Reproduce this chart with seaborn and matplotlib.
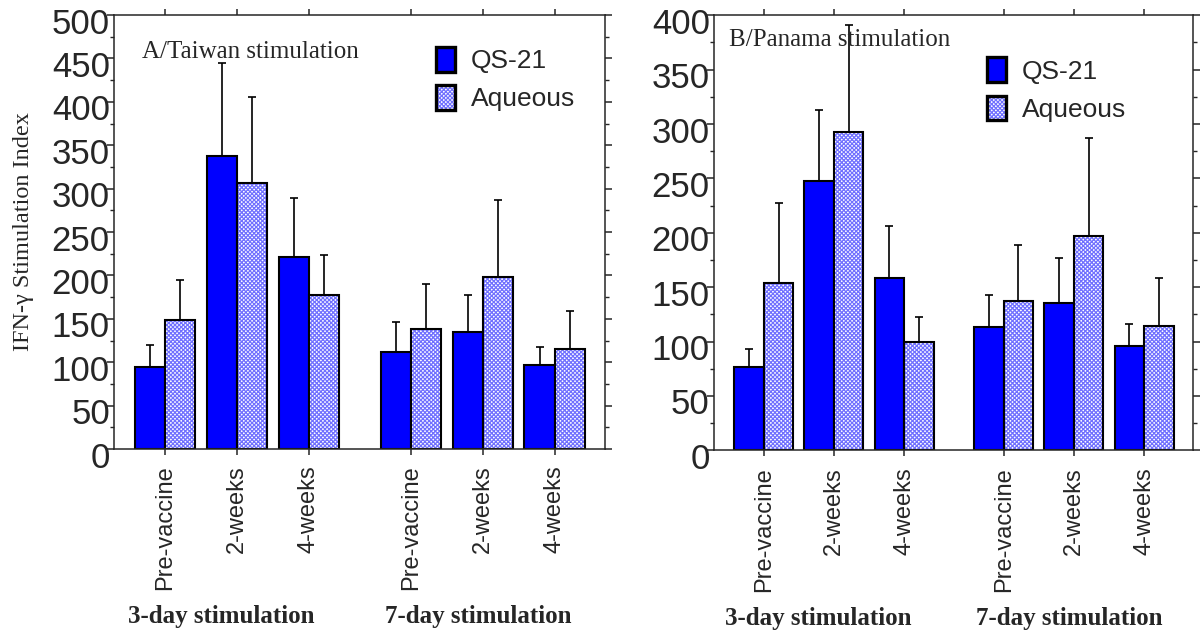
import numpy as np
import pandas as pd
import matplotlib
matplotlib.use("Agg")
import matplotlib.pyplot as plt
import matplotlib.colors as mcolors
import matplotlib.transforms as mtransforms
from matplotlib.patches import Patch
from matplotlib.ticker import MultipleLocator
import seaborn as sns

# ---- data ----
timepoints = ["Pre-vaccine", "2-weeks", "4-weeks"]
stim_groups = ["3-day stimulation", "7-day stimulation"]
adjuvants = ["QS-21", "Aqueous"]

# A/Taiwan (3-day pre, 2w, 4w, 7-day pre, 2w, 4w)
taiwan_qs21 = [94, 337, 221, 112, 135, 97]
taiwan_qs21_err = [26, 108, 68, 34, 42, 20]
taiwan_aq = [149, 307, 177, 138, 198, 115]
taiwan_aq_err = [46, 98, 47, 52, 89, 44]

# B/Panama
panama_qs21 = [77, 248, 158, 113, 135, 96]
panama_qs21_err = [16, 65, 48, 30, 42, 20]
panama_aq = [154, 293, 100, 137, 197, 114]
panama_aq_err = [73, 98, 23, 52, 90, 44]

SANS = "Liberation Sans"
SERIF = "Liberation Serif"
BLUE = "#0000ff"
HATCH_BLUE = "#7070ff"
HATCH = "xxxxxxxx"

sns.set_style("ticks")
plt.rcParams["font.family"] = [SANS, "DejaVu Sans"]
plt.rcParams["hatch.linewidth"] = 0.9

# group layout: three bars, a gap, three bars
pos = np.r_[np.arange(3), np.arange(3) + 3.42]


def make_df(qs, qs_err, aq, aq_err):
    n = len(qs)
    return pd.DataFrame({
        "pos": np.r_[pos, pos],
        "value": np.r_[qs, aq],
        "err": np.r_[qs_err, aq_err],
        "adjuvant": [adjuvants[0]] * n + [adjuvants[1]] * n,
    })


def set_hatch_color(patch):
    if hasattr(patch, "set_hatchcolor"):
        patch.set_hatchcolor(HATCH_BLUE)
    else:
        patch._hatch_color = mcolors.to_rgba(HATCH_BLUE)


def draw_panel(fig, ax, df, ymax, title, title_xy, legend_xy):
    sns.barplot(data=df, x="pos", y="value", hue="adjuvant", native_scale=True,
                hue_order=adjuvants, palette=[BLUE, "white"], errorbar=None,
                width=0.84, edgecolor="black", linewidth=1.5, legend=False,
                saturation=1, ax=ax)

    # crosshatch on the aqueous bars
    for bar in ax.containers[1]:
        bar.set_hatch(HATCH)
        set_hatch_color(bar)

    # upper-only error bars
    for cont, adj in zip(ax.containers, adjuvants):
        sub = df[df["adjuvant"] == adj]
        cx = [b.get_x() + b.get_width() / 2 for b in cont]
        h = [b.get_height() for b in cont]
        err = sub["err"].to_numpy()
        ax.errorbar(cx, h, yerr=[np.zeros_like(err), err], fmt="none",
                    ecolor="black", elinewidth=1.2, capsize=3, capthick=1.2,
                    zorder=0)

    ax.set_xlim(-0.71, 6.12)
    ax.set_ylim(0, ymax)
    ax.yaxis.set_major_locator(MultipleLocator(50))
    ax.yaxis.set_minor_locator(MultipleLocator(25))
    ax.set_xticks(pos, timepoints * 2, rotation=90, fontsize=17)
    ax.set_xlabel("")
    ax.set_ylabel("")

    for s in ax.spines.values():
        s.set_visible(True)
        s.set_linewidth(1.1)
    ax.tick_params(axis="y", which="major", length=5, width=1.1, labelsize=25,
                   pad=-2, right=True, direction="out")
    ax.tick_params(axis="y", which="minor", length=3, width=1.0, right=True)
    ax.tick_params(axis="x", length=4, width=1.1, top=True, pad=8)

    # y numbers sit a little below their ticks in the original
    shift = mtransforms.ScaledTranslation(0, -4 / 72, fig.dpi_scale_trans)
    for lab in ax.get_yticklabels():
        lab.set_transform(lab.get_transform() + shift)

    ax.text(title_xy[0], title_xy[1], title, transform=ax.transAxes,
            fontsize=18, family=SERIF, ha="left", va="center")

    handles = [Patch(facecolor=BLUE, edgecolor="black", linewidth=2.4),
               Patch(facecolor="white", edgecolor="black", linewidth=2.4,
                     hatch=HATCH)]
    leg = ax.legend(handles, adjuvants, loc="upper left", bbox_to_anchor=legend_xy,
                    frameon=False, fontsize=19, handlelength=0.72,
                    handleheight=1.05, handletextpad=0.6, labelspacing=0.45,
                    borderpad=0, borderaxespad=0)
    set_hatch_color(leg.legend_handles[1])

    centers = [pos[:3].mean() - 0.22, pos[3:].mean() - 0.07]
    for c, name in zip(centers, stim_groups):
        ax.text(c, -0.387, name, transform=ax.get_xaxis_transform(),
                ha="center", va="center", fontsize=18, fontweight="bold",
                family=SERIF)


fig = plt.figure(figsize=(12.04, 6.36), dpi=100)
ax1 = fig.add_axes([0.0947, 0.294, 0.4078, 0.6824])
ax2 = fig.add_axes([0.593, 0.292, 0.398, 0.684])

draw_panel(fig, ax1, make_df(taiwan_qs21, taiwan_qs21_err, taiwan_aq, taiwan_aq_err),
           500, "A/Taiwan stimulation", (0.056, 0.915), (0.656, 0.926))
draw_panel(fig, ax2, make_df(panama_qs21, panama_qs21_err, panama_aq, panama_aq_err),
           400, "B/Panama stimulation", (0.031, 0.943), (0.569, 0.903))

ax1.set_ylabel("IFN-\u03b3 Stimulation Index", fontsize=17.5, family=SERIF)
ax1.yaxis.set_label_coords(-0.163, 0.5)

fig.savefig("out.png", dpi=100)
